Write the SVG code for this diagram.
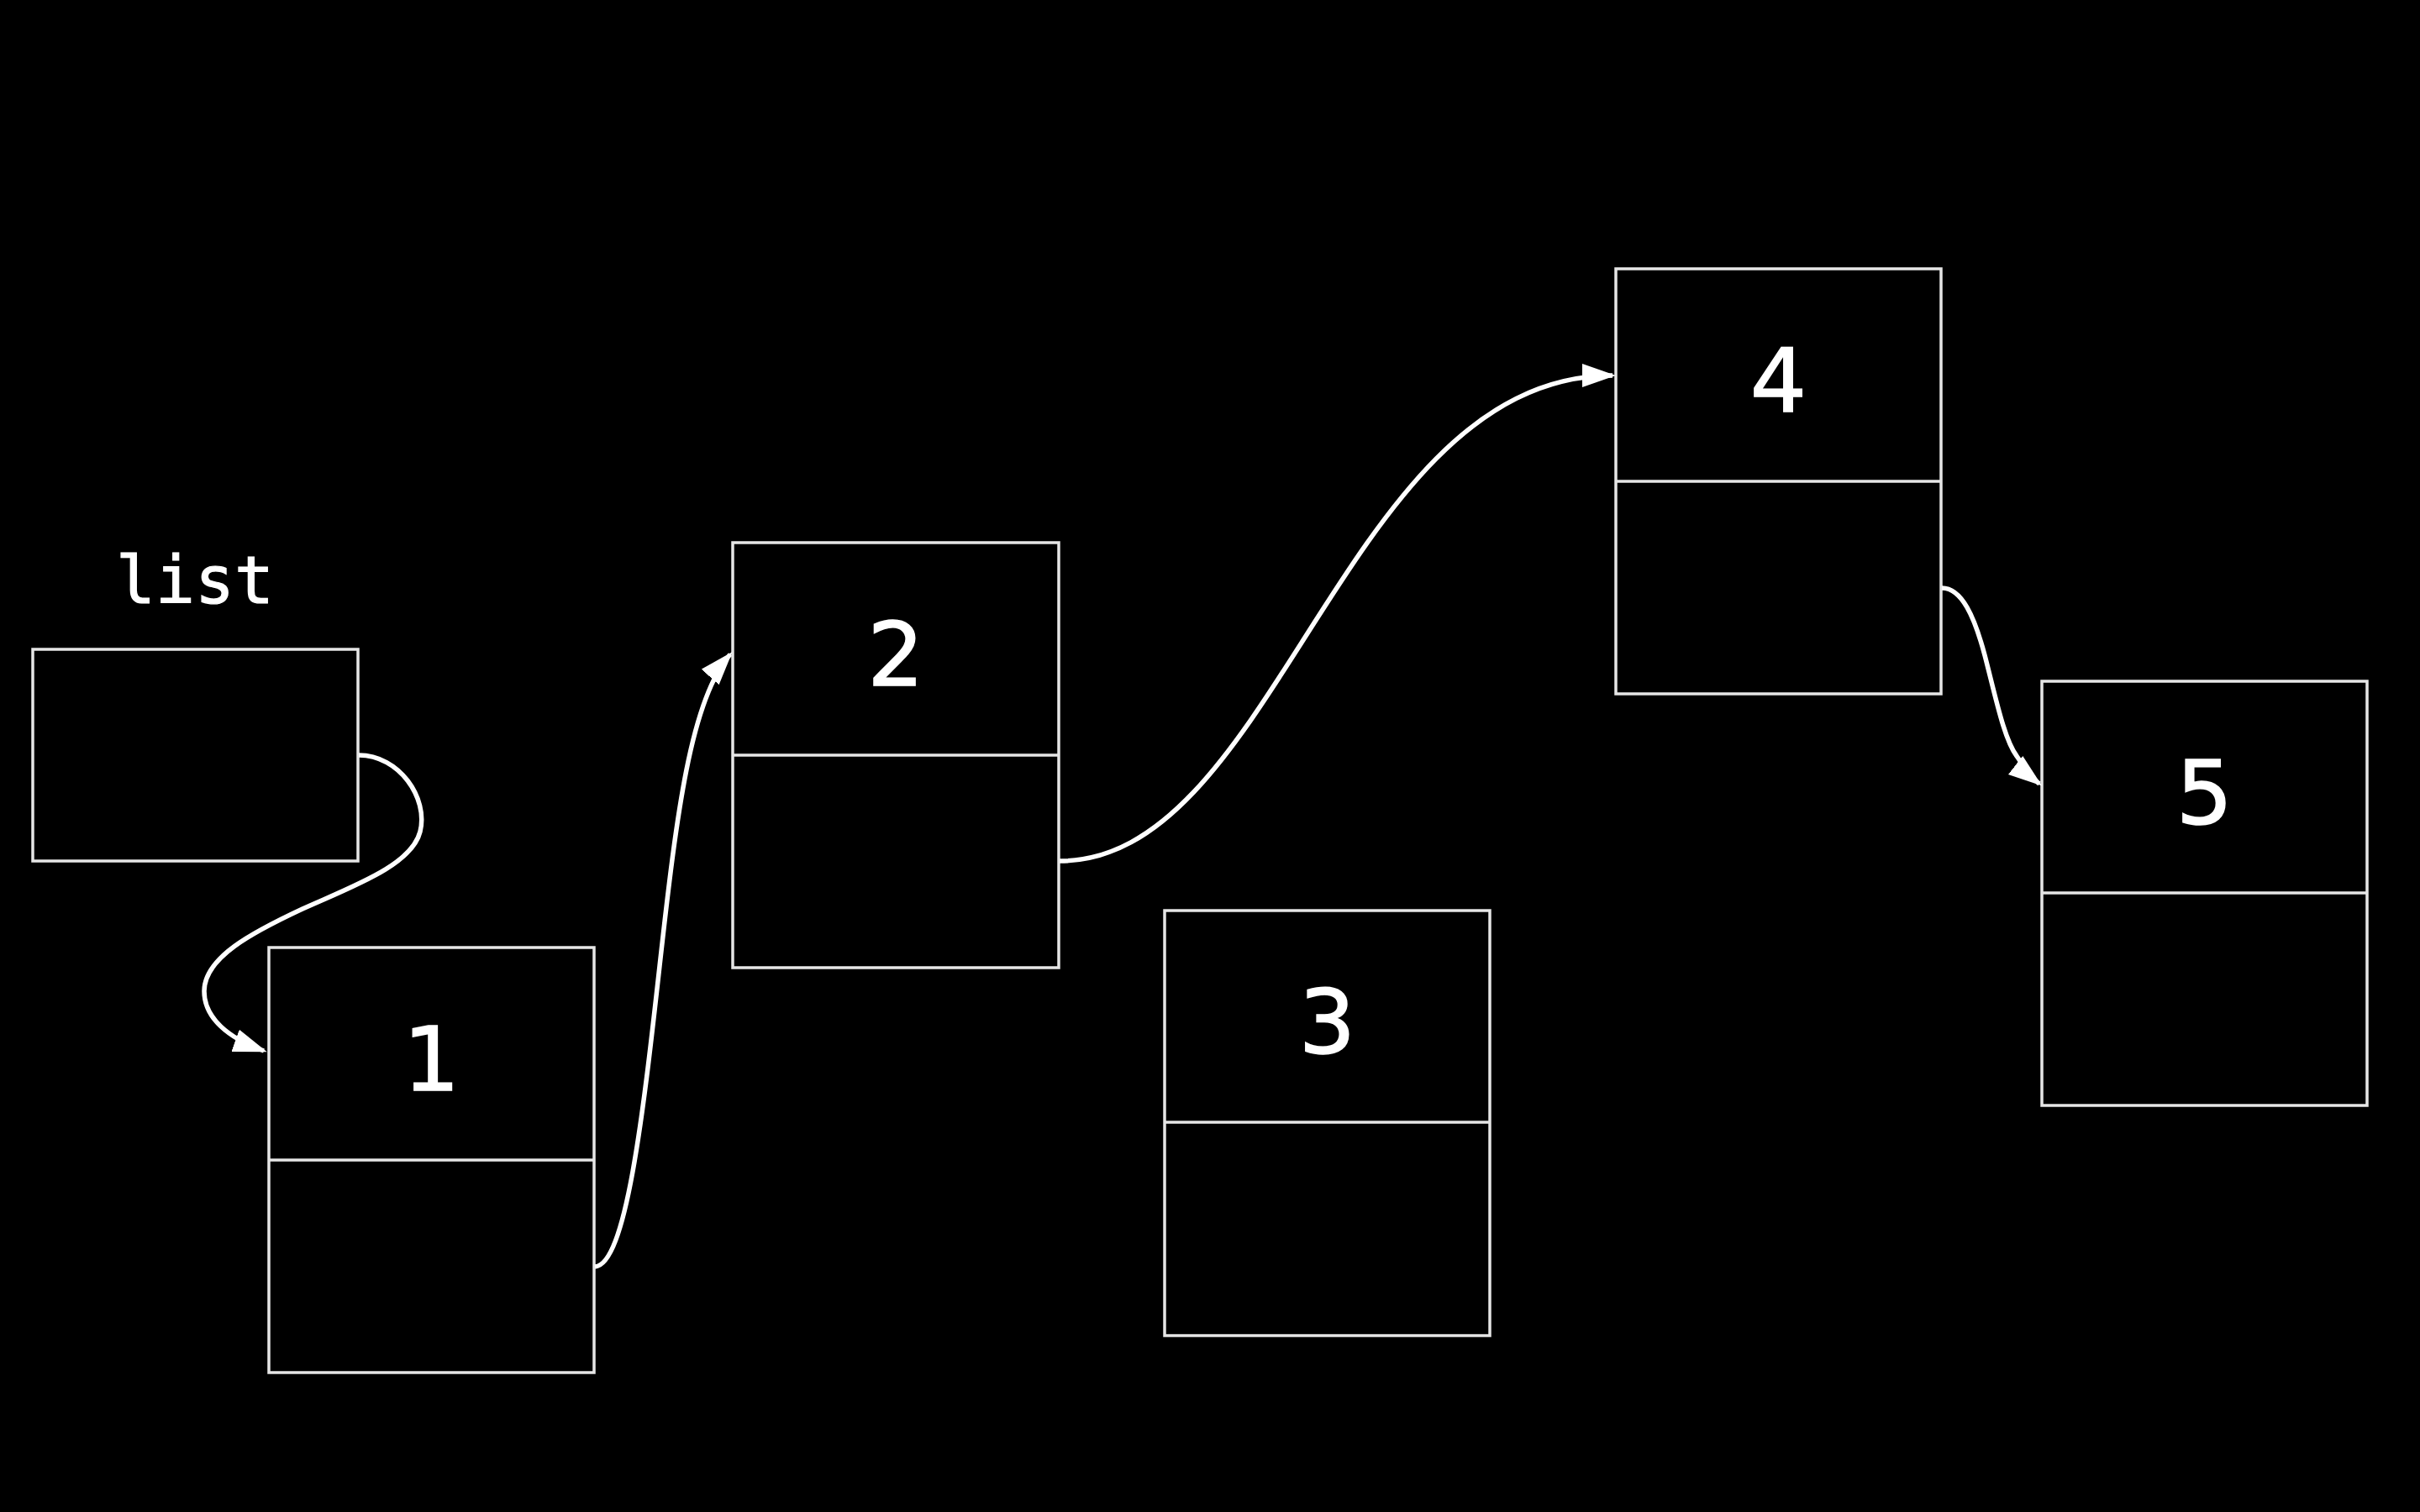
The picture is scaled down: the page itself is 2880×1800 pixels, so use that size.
<svg xmlns="http://www.w3.org/2000/svg" width="2880" height="1800" viewBox="0 0 2880 1800">
  <defs>
    <style>
      .box { fill: #000; stroke: #e6e6e6; stroke-width: 3.5; }
      .div { stroke: #e6e6e6; stroke-width: 3.5; }
      .val { fill: #fff; stroke: #fff; stroke-width: 1.5; font-family: "DejaVu Sans", "Noto Sans", sans-serif; font-size: 106px; text-anchor: middle; }
      .var { fill: #fff; stroke: #fff; stroke-width: 1.2; font-family: "DejaVu Sans Mono", "Liberation Mono", monospace; font-size: 78px; text-anchor: middle; }
      .link { fill: none; stroke: #fff; stroke-width: 5.5; }
    </style>
    <!-- solid arrowhead; its tip sits a few px past the path end so the stroke stays hidden -->
    <marker id="head" markerUnits="userSpaceOnUse" markerWidth="44" markerHeight="30" refX="36" refY="14" orient="auto">
      <path d="M0,0 L40,14 L0,28 Z" fill="#fff"/>
    </marker>
  </defs>

  <rect width="2880" height="1800" fill="#000"/>

  <!-- head pointer -->
  <g id="list">
    <text class="var" x="232" y="718">list</text>
    <rect class="box" x="39" y="773" width="387" height="252"/>
  </g>

  <!-- list nodes: value cell on top, next-pointer cell below -->
  <g id="node1">
    <rect class="box" x="320" y="1128" width="387" height="506"/>
    <line class="div" x1="320" y1="1381" x2="707" y2="1381"/>
    <text class="val" x="513.5" y="1298">1</text>
  </g>
  <g id="node2">
    <rect class="box" x="872" y="646" width="388" height="506"/>
    <line class="div" x1="872" y1="899" x2="1260" y2="899"/>
    <text class="val" x="1066" y="816">2</text>
  </g>
  <g id="node3">
    <rect class="box" x="1386" y="1084" width="387" height="506"/>
    <line class="div" x1="1386" y1="1336" x2="1773" y2="1336"/>
    <text class="val" x="1579.5" y="1254">3</text>
  </g>
  <g id="node4">
    <rect class="box" x="1923" y="320" width="387" height="506"/>
    <line class="div" x1="1923" y1="573" x2="2310" y2="573"/>
    <text class="val" x="2116.5" y="490">4</text>
  </g>
  <g id="node5">
    <rect class="box" x="2430" y="811" width="387" height="505"/>
    <line class="div" x1="2430" y1="1063" x2="2817" y2="1063"/>
    <text class="val" x="2623.5" y="981">5</text>
  </g>

  <!-- next pointers -->
  <g id="links">
    <path class="link" marker-end="url(#head)" d="M427,899 C475,899 510,950 500,990 C490,1030 420,1055 360,1082 C300,1110 243,1140 243,1180 C243,1212 272,1236 314,1251"/>
    <path class="link" marker-end="url(#head)" d="M708,1508 C745,1505 765,1330 785,1150 C805,970 822,832 869,779"/>
    <path class="link" marker-end="url(#head)" d="M1261,1025 C1520,1025 1600,447 1919,447"/>
    <path class="link" marker-end="url(#head)" d="M2311,700 C2335,700 2350,735 2362,780 C2375,830 2385,880 2400,900 C2410,915 2418,926 2427,933"/>
  </g>
</svg>
